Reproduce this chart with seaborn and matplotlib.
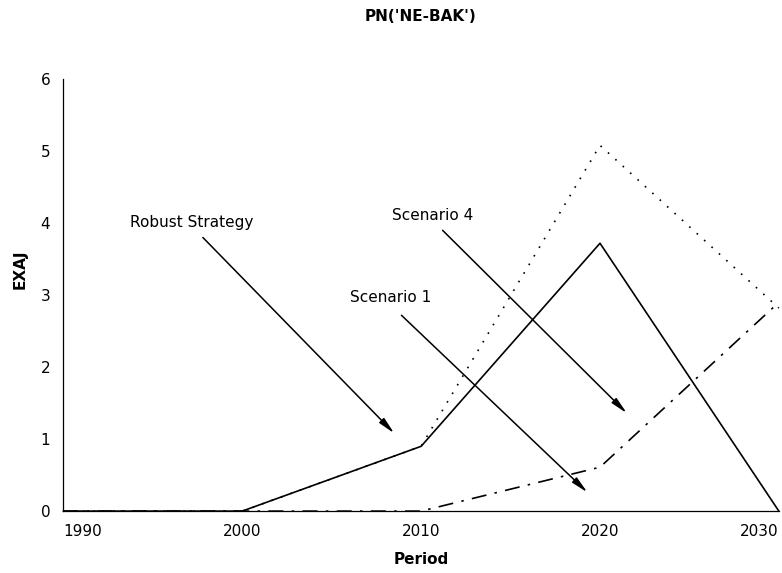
import numpy as np
import pandas as pd
import matplotlib
matplotlib.use("Agg")
import matplotlib.pyplot as plt
import seaborn as sns

# values
periods = [1990, 2000, 2010, 2020, 2030]
robust = [0.0, 0.0, 0.9, 3.72, 0.0]
scenario4 = [0.0, 0.0, 0.9, 5.08, 2.82]
scenario1 = [0.0, 0.0, 0.0, 0.61, 2.9]

df = pd.DataFrame({
    "Period": periods * 3,
    "EXAJ": robust + scenario4 + scenario1,
    "series": ["Robust Strategy"] * 5 + ["Scenario 4"] * 5 + ["Scenario 1"] * 5,
})

sns.set_style("white")
plt.rcParams["font.family"] = ["DejaVu Sans"]
plt.rcParams["text.color"] = "black"
plt.rcParams["axes.labelcolor"] = "black"
plt.rcParams["xtick.color"] = "black"
plt.rcParams["ytick.color"] = "black"

fig = plt.figure(figsize=(7.82, 5.73), dpi=100)
ax = fig.add_axes([0.081, 0.108, 0.915, 0.754])

dashes = {
    "Robust Strategy": "",
    "Scenario 4": (1, 5),
    "Scenario 1": (9, 5, 1.5, 5),
}
sns.lineplot(data=df, x="Period", y="EXAJ", style="series", dashes=dashes,
             color="black", linewidth=1.2, legend=False, ax=ax)
for ln in ax.lines:
    ln.set_clip_on(False)

ax.set_xlim(1990, 2030)
ax.set_ylim(0, 6)
ax.set_xticks(periods)
ax.set_yticks(range(7))
ax.tick_params(direction="inout", length=7, width=0.9, labelsize=11, color="black",
               labelcolor="black")
ax.tick_params(axis="x", pad=6)
ax.tick_params(axis="y", pad=6)
xt = ax.get_xticklabels()
xt[0].set_ha("left")
xt[-1].set_ha("right")
for s in ["top", "right"]:
    ax.spines[s].set_visible(False)
for s in ["left", "bottom"]:
    ax.spines[s].set_color("black")
    ax.spines[s].set_linewidth(0.9)

ax.set_xlabel("Period", fontweight="bold", fontsize=11, color="black")
ax.set_ylabel("EXAJ", fontweight="bold", fontsize=11, color="black")
ax.xaxis.set_label_coords(0.50, -0.095)
ax.yaxis.set_label_coords(-0.050, 0.56)
fig.suptitle("PN('NE-BAK')", fontweight="bold", fontsize=11, x=0.538, y=0.985,
             color="black")

arrow = dict(arrowstyle="-|>,head_length=1.0,head_width=0.2", color="black",
             lw=1.1, shrinkA=0, shrinkB=0)
labels = [
    ("Robust Strategy", (1993.7, 4.01), (2008.5, 1.08), (1997.8, 3.8)),
    ("Scenario 4", (2008.4, 4.11), (2021.5, 1.36), (2011.2, 3.9)),
    ("Scenario 1", (2006.0, 2.96), (2019.3, 0.26), (2008.9, 2.72)),
]
for txt, tpos, tip, tail in labels:
    ax.text(tpos[0], tpos[1], txt, fontsize=11, ha="left", va="center", color="black")
    ax.annotate("", xy=tip, xytext=tail, arrowprops=arrow)

fig.savefig("out.png", dpi=100)
